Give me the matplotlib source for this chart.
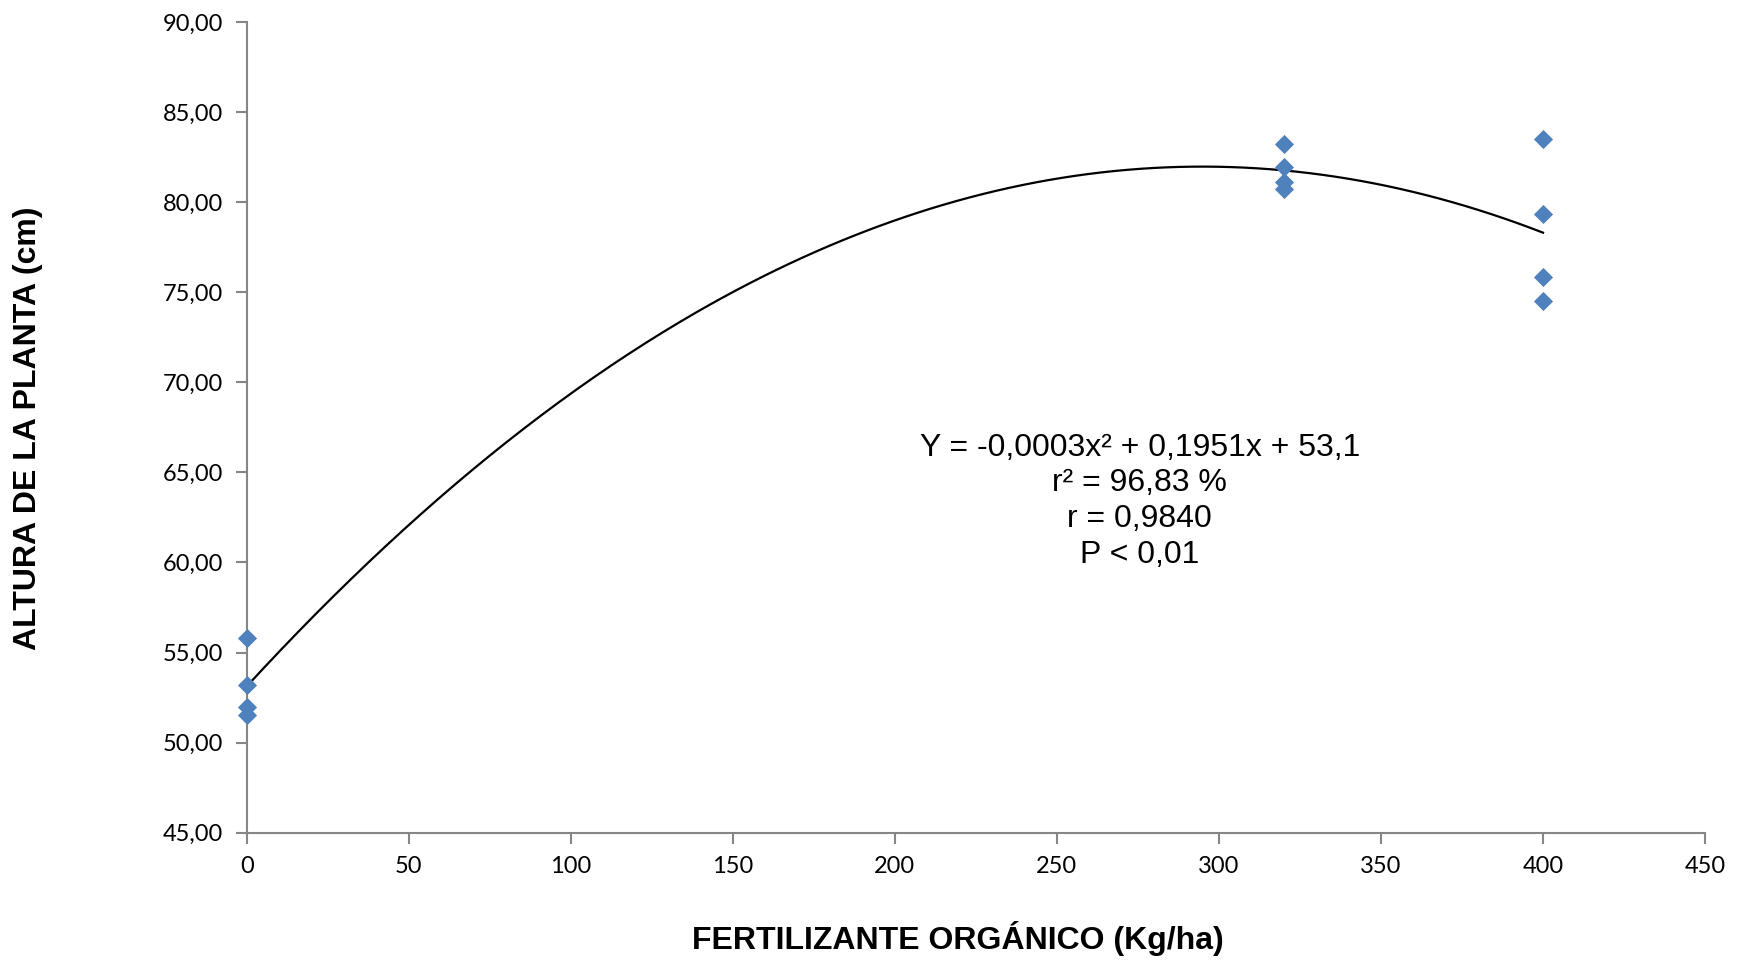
import numpy as np
import matplotlib
matplotlib.use("Agg")
import matplotlib.pyplot as plt
from matplotlib.ticker import FuncFormatter

# ========================================
# Data
# ========================================

dose = [0, 0, 0, 0, 320, 320, 320, 320, 400, 400, 400, 400]
altura = [55.79, 53.20, 51.96, 51.53,
          83.23, 81.97, 81.14, 80.71,
          83.50, 79.33, 75.86, 74.53]

eq_lines = ["Y = -0,0003x\u00b2 + 0,1951x + 53,1",
            "r\u00b2 = 96,83 %",
            "r = 0,9840",
            "P < 0,01"]

x_ticks = np.arange(0, 451, 50)
y_ticks = np.arange(45, 90.1, 5)

# ========================================
# Plot
# ========================================

fig = plt.figure(figsize=(17.42, 9.6), dpi=100)
ax = fig.add_axes([0.1416, 0.1326, 0.8372, 0.8445])

ax.scatter(dose, altura, marker="D", s=95, color="#4F81BD", zorder=3,
           linewidths=0, clip_on=False)

# quadratic trend line fitted to the points
coef = np.polyfit(dose, altura, 2)
xs = np.linspace(0, 400, 300)
ax.plot(xs, np.polyval(coef, xs), color="black", lw=1.6, zorder=2)

ax.set_xlim(0, 450)
ax.set_ylim(45, 90)
ax.set_xticks(x_ticks)
ax.set_yticks(y_ticks)
ax.yaxis.set_major_formatter(FuncFormatter(lambda v, p: f"{v:.2f}".replace(".", ",")))

for side in ["top", "right"]:
    ax.spines[side].set_visible(False)
for side in ["left", "bottom"]:
    ax.spines[side].set_color("#868686")
    ax.spines[side].set_linewidth(1.5)

ax.tick_params(axis="both", direction="out", length=8, width=1.5, color="#868686",
               labelsize=17, labelcolor="black")
ax.tick_params(axis="y", pad=9)
ax.tick_params(axis="x", pad=9)
for lbl in ax.get_xticklabels() + ax.get_yticklabels():
    lbl.set_fontfamily("Lato")

ax.text(275.6, 63.4, "\n".join(eq_lines), ha="center", va="center",
        fontsize=23, family="Liberation Sans", linespacing=1.25)

fig.text(958 / 1742, 1 - 939 / 960, "FERTILIZANTE ORGÁNICO (Kg/ha)",
         ha="center", va="center", fontsize=23, fontweight="bold", family="Liberation Sans")
fig.text(28 / 1742, 1 - 428 / 960, "ALTURA DE LA PLANTA (cm)", rotation=90,
         ha="center", va="center", fontsize=23, fontweight="bold", family="Liberation Sans")

fig.savefig("out.png", dpi=100)
